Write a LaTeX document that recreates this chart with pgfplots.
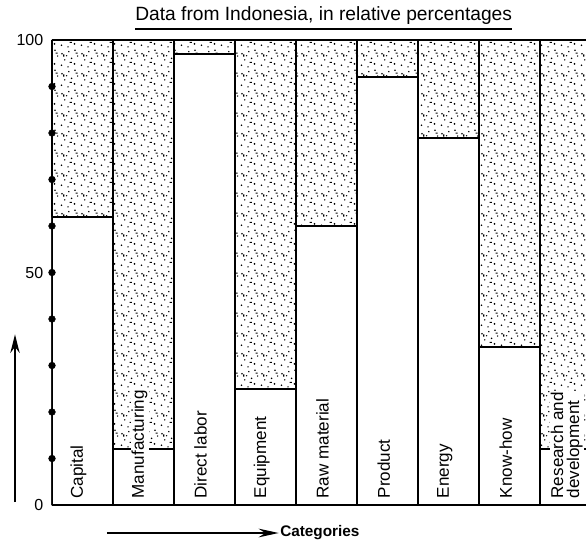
\documentclass[border=0pt]{standalone}
\usepackage{fontspec}
\setmainfont{Liberation Sans}
\usepackage{pgfplots}
\pgfplotsset{compat=1.18}
\usetikzlibrary{patterns,calc,arrows.meta}
\pgfdeclarepatternformonly{stipple}{\pgfpointorigin}{\pgfpoint{15pt}{15pt}}{\pgfpoint{15pt}{15pt}}{%
  \pgfpathcircle{\pgfpoint{1.2pt}{2.1pt}}{0.7pt}%
  \pgfpathcircle{\pgfpoint{6.3pt}{0.9pt}}{0.6pt}%
  \pgfpathcircle{\pgfpoint{11.4pt}{3.2pt}}{0.75pt}%
  \pgfpathcircle{\pgfpoint{3.8pt}{6.4pt}}{0.6pt}%
  \pgfpathcircle{\pgfpoint{9.1pt}{7.6pt}}{0.7pt}%
  \pgfpathcircle{\pgfpoint{13.9pt}{9.4pt}}{0.6pt}%
  \pgfpathcircle{\pgfpoint{1.6pt}{11.2pt}}{0.7pt}%
  \pgfpathcircle{\pgfpoint{6.9pt}{12.8pt}}{0.6pt}%
  \pgfpathcircle{\pgfpoint{11.8pt}{13.9pt}}{0.7pt}%
  \pgfpathcircle{\pgfpoint{5.2pt}{9.6pt}}{0.55pt}%
  \pgfpathrectangle{\pgfpoint{7.5pt}{4.0pt}}{\pgfpoint{1.8pt}{0.9pt}}%
  \pgfpathrectangle{\pgfpoint{2.5pt}{9.0pt}}{\pgfpoint{0.9pt}{1.7pt}}%
  \pgfpathrectangle{\pgfpoint{12.2pt}{11.2pt}}{\pgfpoint{1.7pt}{0.9pt}}%
  \pgfusepath{fill}%
}
\begin{document}
\begin{tikzpicture}
\begin{axis}[
  scale only axis, width=400.5pt, height=348.75pt,
  xmin=-0.5, xmax=8.25, ymin=0, ymax=100,
  axis x line*=bottom, axis y line*=left,
  axis line style={line width=1.7pt},
  xtick=\empty,
  ytick={0,50,100},
  major tick length=0pt,
  yticklabel style={font=\fontsize{12}{14}\selectfont, xshift=-3pt},
  /pgf/number format/assume math mode=true,
  clip mode=individual,
]
% stippled part (full column up to 100)
\addplot[ybar, bar width=1, bar shift=0pt, pattern=stipple, draw=black, line width=1.7pt]
  coordinates {(0,100)(1,100)(2,100)(3,100)(4,100)(5,100)(6,100)(7,100)(8,100)};
% white part: relative percentage
\addplot[ybar, bar width=1, bar shift=0pt, fill=white, draw=black, line width=1.7pt]
  coordinates {(0,62)(1,12)(2,97)(3,25)(4,60)(5,92)(6,79)(7,34)(8,12)};
% dots on the y axis
\addplot[only marks, mark=*, mark size=2.5pt, black]
  coordinates {(-0.5,10)(-0.5,20)(-0.5,30)(-0.5,40)(-0.5,50)(-0.5,60)(-0.5,70)(-0.5,80)(-0.5,90)};
\foreach \i/\lab in {0/Capital,1/Manufacturing,2/Direct labor,3/Equipment,4/Raw material,5/Product,6/Energy,7/Know-how}{
  \edef\temp{\noexpand\node[rotate=90, anchor=west, fill=white, font=\noexpand\fontsize{12.8}{14}\noexpand\selectfont, inner sep=0.8pt] at (axis cs:\i,0) [xshift=4pt, yshift=3pt] {\lab};}
  \temp
}
\node[rotate=90, anchor=west, align=left, fill=white, font=\fontsize{12.8}{12}\selectfont, inner sep=0.8pt] at (axis cs:8,0) [xshift=4pt, yshift=3pt] {Research and\\development};
\coordinate (SW) at (rel axis cs:0,0);
\coordinate (T) at (rel axis cs:0.5,1);
\coordinate (NE) at (rel axis cs:1,1);
\end{axis}
\node[anchor=base, font=\fontsize{14.4}{16}\selectfont, inner sep=0pt] (title) at ($(T)+(3.5pt,14.25pt)$) {Data from Indonesia, in relative percentages};
\draw[line width=1.1pt] (title.west |- {$(T)+(0,8.25pt)$}) -- (title.east |- {$(T)+(0,8.25pt)$});
\draw[line width=1.4pt, -{Stealth[length=14pt,width=7pt]}] ($(SW)+(-27.75pt,2.25pt)$) -- ($(SW)+(-27.75pt,128pt)$);
\draw[line width=1.4pt, -{Stealth[length=15pt,width=6.5pt]}] ($(SW)+(41.25pt,-21pt)$) -- ($(SW)+(170pt,-21pt)$);
\node[anchor=west, font=\bfseries\fontsize{11.5}{13}\selectfont, inner sep=0pt] at ($(SW)+(171pt,-21pt)$) {Categories};
\pgfresetboundingbox
\path[use as bounding box] ($(SW)+(-39pt,-31.5pt)$) rectangle ($(NE)+(0,30pt)$);
\end{tikzpicture}
\end{document}
